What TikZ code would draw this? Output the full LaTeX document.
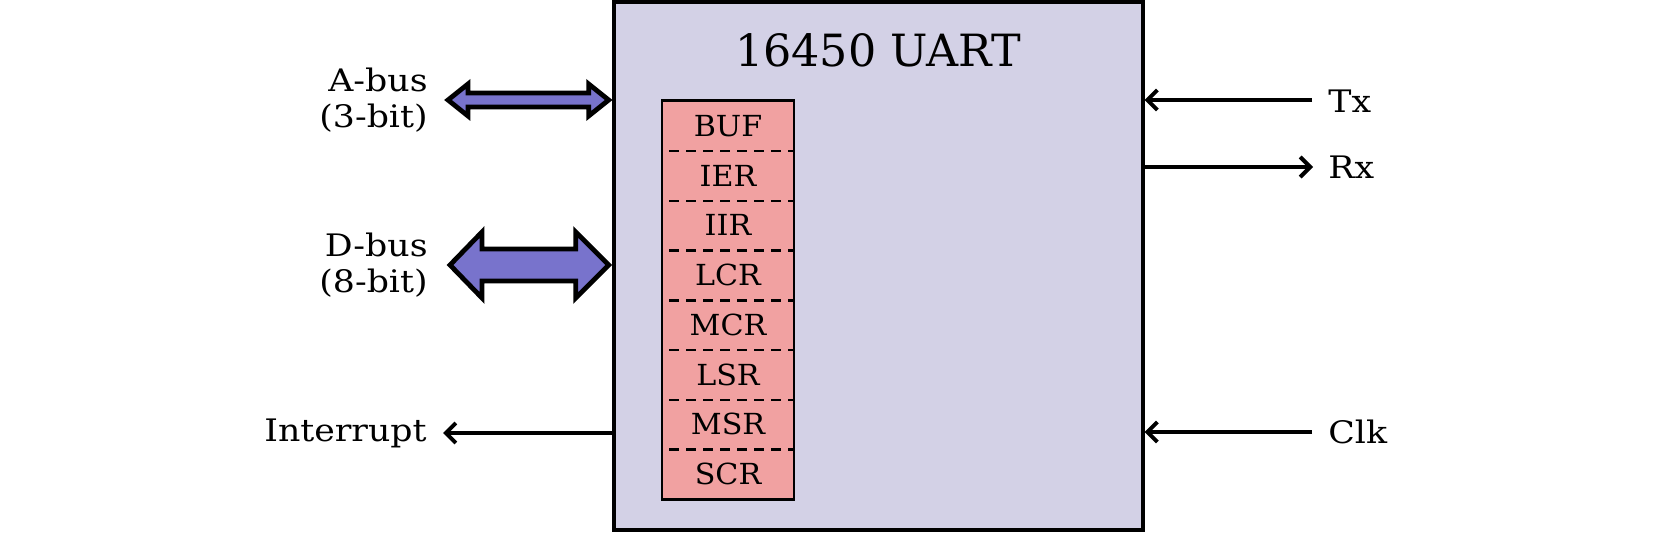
\documentclass[tikz,border=0pt]{standalone}
\usepackage{fontspec}
\setmainfont{DejaVu Serif}
\newfontfamily\lblfont[FakeStretch=1.12]{DejaVu Serif}
\newfontfamily\regfont[FakeStretch=1.04]{DejaVu Serif}
\usetikzlibrary{arrows.meta,calc}
\definecolor{uartfill}{RGB}{211,209,230}
\definecolor{regfill}{RGB}{241,161,161}
\definecolor{busfill}{RGB}{120,115,204}
\begin{document}
\begin{tikzpicture}[x=0.5pt,y=-0.5pt,
  uartbox/.style={draw, line width=2pt, fill=uartfill, minimum width=264.4pt, minimum height=264.25pt, inner sep=0pt},
  regbox/.style={fill=regfill, minimum width=65.5pt, minimum height=24.875pt, inner sep=0pt, font=\regfont\fontsize{14.5}{16}\selectfont},
  lbl/.style={inner sep=0pt, font=\lblfont\fontsize{15.5}{18}\selectfont},
  sig/.style={line width=2pt, -{Straight Barb[length=5pt,width=10pt]}},
  bus/.style={draw, line width=2.4pt, fill=busfill, line join=miter},
  sep/.style={line width=1.2pt, dash pattern=on 5pt off 3.5pt, dash phase=5pt},
]
\useasboundingbox (0,0) rectangle (1654,533);

% main block
\node[uartbox] (uart) at (878.1,266.25) {};
\node[font=\fontsize{22.2}{26}\selectfont, anchor=base, inner sep=0pt] (title) at (878,67) {16450 UART};

% register stack
\foreach \n [count=\i] in {BUF,IER,IIR,LCR,MCR,LSR,MSR,SCR}
  \node[regbox] (r\i) at (728,{101+49.75*(\i-0.5)}) {\n};
\foreach \i in {1,...,7}
  \draw[sep] (r\i.south west) -- (r\i.south east);
\draw[line width=1.2pt] (r1.north west) rectangle (r8.south east);

% labels
\node[lbl, align=right, anchor=east] (abus) at (428,100) {A-bus\\(3-bit)};
\node[lbl, align=right, anchor=east] (dbus) at (428,265) {D-bus\\(8-bit)};
\node[lbl, anchor=base east] (intr) at (427,442) {Interrupt};
\node[lbl, anchor=base west] (tx) at (1328,113) {Tx};
\node[lbl, anchor=base west] (rx) at (1328,179) {Rx};
\node[lbl, anchor=base west] (clk) at (1328,444) {Clk};

% A-bus double arrow
\coordinate (aL) at (448,100);
\coordinate (aR) at ($(uart.west |- aL)+(-3,0)$);
\draw[bus] (aL) -- ($(aL)+(20,-16)$) -- ($(aL)+(20,-7)$) -- ($(aR)+(-20,-7)$) -- ($(aR)+(-20,-16)$)
  -- (aR) -- ($(aR)+(-20,16)$) -- ($(aR)+(-20,7)$) -- ($(aL)+(20,7)$) -- ($(aL)+(20,16)$) -- cycle;

% D-bus double arrow
\coordinate (dL) at (450,265);
\coordinate (dR) at ($(uart.west |- dL)+(-3,0)$);
\draw[bus] (dL) -- ($(dL)+(32,-33)$) -- ($(dL)+(32,-16)$) -- ($(dR)+(-33,-16)$) -- ($(dR)+(-33,-33)$)
  -- (dR) -- ($(dR)+(-33,33)$) -- ($(dR)+(-33,16)$) -- ($(dL)+(32,16)$) -- ($(dL)+(32,33)$) -- cycle;

% signals
\coordinate (intTip) at (443,433);
\draw[sig] (uart.west |- intTip) -- (intTip);
\coordinate (txS) at (1312,100);
\draw[sig] (txS) -- (txS -| uart.east);
\coordinate (rxE) at (1313,167);
\draw[sig] (rxE -| uart.east) -- (rxE);
\coordinate (clkS) at (1312,432);
\draw[sig] (clkS) -- (clkS -| uart.east);
\end{tikzpicture}
\end{document}
